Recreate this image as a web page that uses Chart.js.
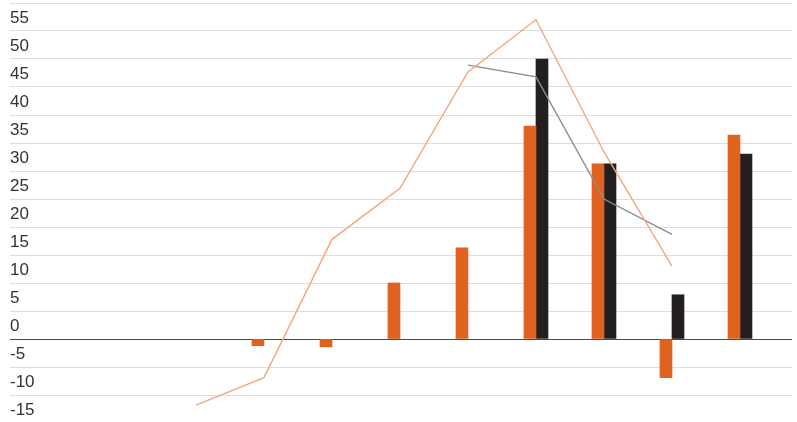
<!DOCTYPE html>
<html>
<head>
<meta charset="utf-8">
<script src="https://cdn.jsdelivr.net/npm/chart.js@4/dist/chart.umd.min.js"></script>
<style>
  html, body { margin: 0; padding: 0; background: #fff; overflow: hidden; }
  #wrap { width: 797px; height: 430px; }
</style>
</head>
<body>
<div id="wrap"><canvas id="chart" width="797" height="430"></canvas></div>
<script>
// category positions (no x labels are shown in the chart)
const categories = [0, 1, 2, 3, 4, 5, 6, 7, 8, 9, 10];

// bar series
const barOrange = [null, null, null, -1.2, -1.4, 10, 16.3, 38, 31.3, -6.9, 36.4];
const barBlack  = [null, null, null, null, null, null, null, 50, 31.3, 7.9, 33];

// line series
const lineOrange = [null, null, -11.8, -6.9, 17.8, 26.9, 47.7, 57, 33.4, 13, null];
const lineGray   = [null, null, null, null, null, null, 48.9, 46.8, 25, 18.7, null];

// y axis ticks
const yMin = -15;
const yMax = 60;
const yStep = 5;

// build {x, y} points, skipping empty values
const toPoints = arr => categories
  .map((c, i) => ({ x: c, y: arr[i] }))
  .filter(p => p.y !== null);

const ctx = document.getElementById('chart').getContext('2d');

new Chart(ctx, {
  type: 'bar',
  data: {
    datasets: [
      {
        type: 'line',
        data: toPoints(lineOrange),
        borderColor: '#f4a67c',
        borderWidth: 1.4,
        pointRadius: 0,
        tension: 0,
        order: 0
      },
      {
        type: 'line',
        data: toPoints(lineGray),
        borderColor: '#8c8c8c',
        borderWidth: 1.4,
        pointRadius: 0,
        tension: 0,
        order: 0
      },
      {
        data: toPoints(barOrange),
        backgroundColor: '#e1611f',
        barThickness: 12,
        order: 1
      },
      {
        data: toPoints(barBlack),
        backgroundColor: '#231f20',
        barThickness: 12,
        order: 1
      }
    ]
  },
  options: {
    responsive: false,
    animation: false,
    devicePixelRatio: 1,
    layout: { padding: { left: 10, right: 5, top: 3, bottom: 7 } },
    plugins: {
      legend: { display: false },
      tooltip: { enabled: false }
    },
    scales: {
      x: {
        type: 'linear',
        offset: false,
        min: -0.735,
        max: 10.765,
        display: false
      },
      y: {
        min: yMin,
        max: yMax,
        border: { display: false },
        grid: {
          drawTicks: false,
          lineWidth: 1,
          color: c => (c.tick && c.tick.value === 0 ? '#4a4a4a' : '#dedede')
        },
        ticks: {
          stepSize: yStep,
          mirror: true,
          padding: 0,
          labelOffset: -13,
          color: '#333333',
          font: { family: 'Liberation Sans, Arial, sans-serif', size: 17 },
          callback: v => (v === yMax ? '' : String(v))
        },
        afterFit: scale => {
          scale.paddingTop = 0;
          scale.paddingBottom = 0;
          scale.width = 0;
        }
      }
    }
  }
});
</script>
</body>
</html>
